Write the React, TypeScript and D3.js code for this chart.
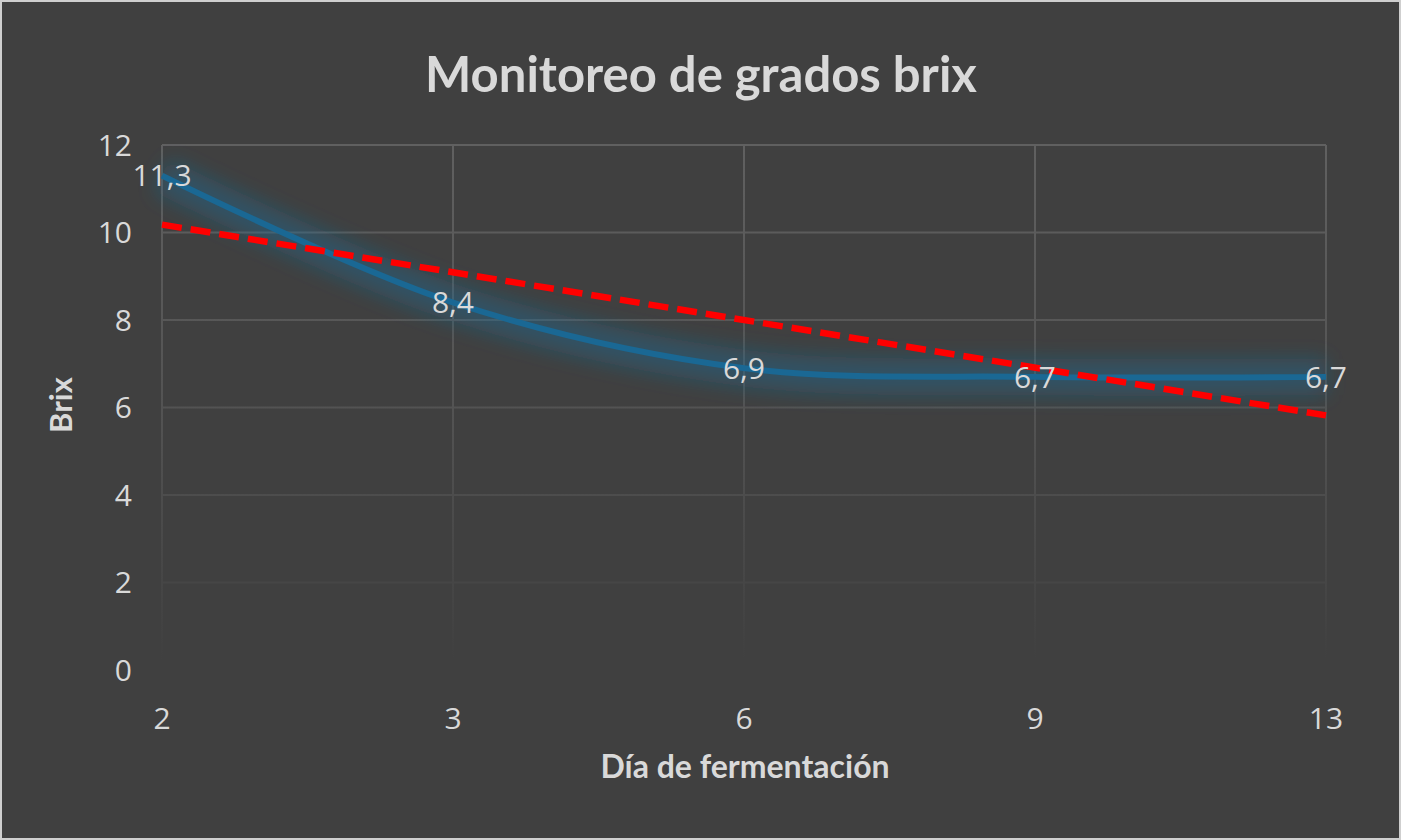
import React from "react";
import * as d3 from "d3";

const days: string[] = ["2", "3", "6", "9", "13"];
const brix: number[] = [11.3, 8.4, 6.9, 6.7, 6.7];
const labels: string[] = ["11,3", "8,4", "6,9", "6,7", "6,7"];
const yTicks: number[] = [0, 2, 4, 6, 8, 10, 12];

const W = 1401;
const H = 840;

export default function App() {
  const x = d3.scalePoint<string>().domain(days).range([162, 1326]);
  const y = d3.scaleLinear().domain([0, 12]).range([670, 145]);

  // linear trendline (least squares on category index 1..n)
  const n = brix.length;
  const idx = brix.map((_, i) => i + 1);
  const mx = d3.mean(idx) as number;
  const my = d3.mean(brix) as number;
  const sxy = d3.sum(idx.map((v, i) => (v - mx) * (brix[i] - my)));
  const sxx = d3.sum(idx.map((v) => (v - mx) * (v - mx)));
  const slope = sxy / sxx;
  const icpt = my - slope * mx;
  const trend = [1, n].map((k) => [x(days[k - 1]) as number, y(icpt + slope * k)] as [number, number]);

  const pts = days.map((d, i) => [x(d) as number, y(brix[i])] as [number, number]);
  const line = d3.line().curve(d3.curveCatmullRom.alpha(0.5))(pts) as string;
  const tline = d3.line()(trend) as string;

  const txt = "#d9d9d9";
  const font = "'Open Sans', 'Liberation Sans', sans-serif";
  const bold = "Lato, 'Open Sans', sans-serif";

  return (
    <div style={{ position: "absolute", left: 0, top: 0 }}>
      <svg width={W} height={H} style={{ display: "block" }}>
        <defs>
          <linearGradient id="gridG" gradientUnits="userSpaceOnUse" x1="0" y1="145" x2="0" y2="660">
            <stop offset="0" stopColor="#606060" />
            <stop offset="0.55" stopColor="#525252" />
            <stop offset="1" stopColor="#404040" />
          </linearGradient>
          <filter id="glow" x="-20%" y="-50%" width="140%" height="200%">
            <feGaussianBlur stdDeviation="10" />
          </filter>
        </defs>
        <rect x={1} y={1} width={W - 2} height={H - 2} fill="#404040" stroke="#cfcfcf" strokeWidth={2} />

        <text x={701} y={92} textAnchor="middle" fill={txt} fontFamily={bold} fontWeight={700} fontSize={49}>
          Monitoreo de grados brix
        </text>

        {/* grid */}
        {yTicks.filter((t) => t > 0).map((t) => (
          <line key={"h" + t} x1={162} x2={1326} y1={y(t)} y2={y(t)} stroke="url(#gridG)" strokeWidth={2} />
        ))}
        {days.map((d) => (
          <line key={"v" + d} x1={x(d)} x2={x(d)} y1={145} y2={660} stroke="url(#gridG)" strokeWidth={2} />
        ))}

        {/* y tick labels */}
        {yTicks.map((t) => (
          <text key={"yt" + t} x={132} y={y(t)} dy="0.36em" textAnchor="end" fill={txt} fontFamily={font} fontSize={30}>
            {t}
          </text>
        ))}
        {/* x tick labels */}
        {days.map((d) => (
          <text key={"xt" + d} x={x(d)} y={718} dy="0.36em" textAnchor="middle" fill={txt} fontFamily={font} fontSize={30}>
            {d}
          </text>
        ))}

        {/* series glow + line */}
        <path d={line} fill="none" stroke="#1f6f9a" strokeOpacity={0.4} strokeWidth={36} filter="url(#glow)" />
        <path d={line} fill="none" stroke="#1a6894" strokeWidth={6} strokeLinejoin="round" />

        {/* trendline */}
        <path d={tline} fill="none" stroke="#ff0000" strokeWidth={6.5} strokeDasharray="20 9" />

        {/* data labels */}
        {days.map((d, i) => (
          <text key={"dl" + d} x={x(d)} y={y(brix[i])} dy="0.36em" textAnchor="middle" fill={txt} fontFamily={font} fontSize={30}>
            {labels[i]}
          </text>
        ))}

        {/* axis titles */}
        <text x={745} y={778} textAnchor="middle" fill={txt} fontFamily={bold} fontWeight={700} fontSize={32}>
          Día de fermentación
        </text>
        <text transform="translate(72,405) rotate(-90)" textAnchor="middle" fill={txt} fontFamily={bold} fontWeight={700} fontSize={31}>
          Brix
        </text>
      </svg>
    </div>
  );
}
